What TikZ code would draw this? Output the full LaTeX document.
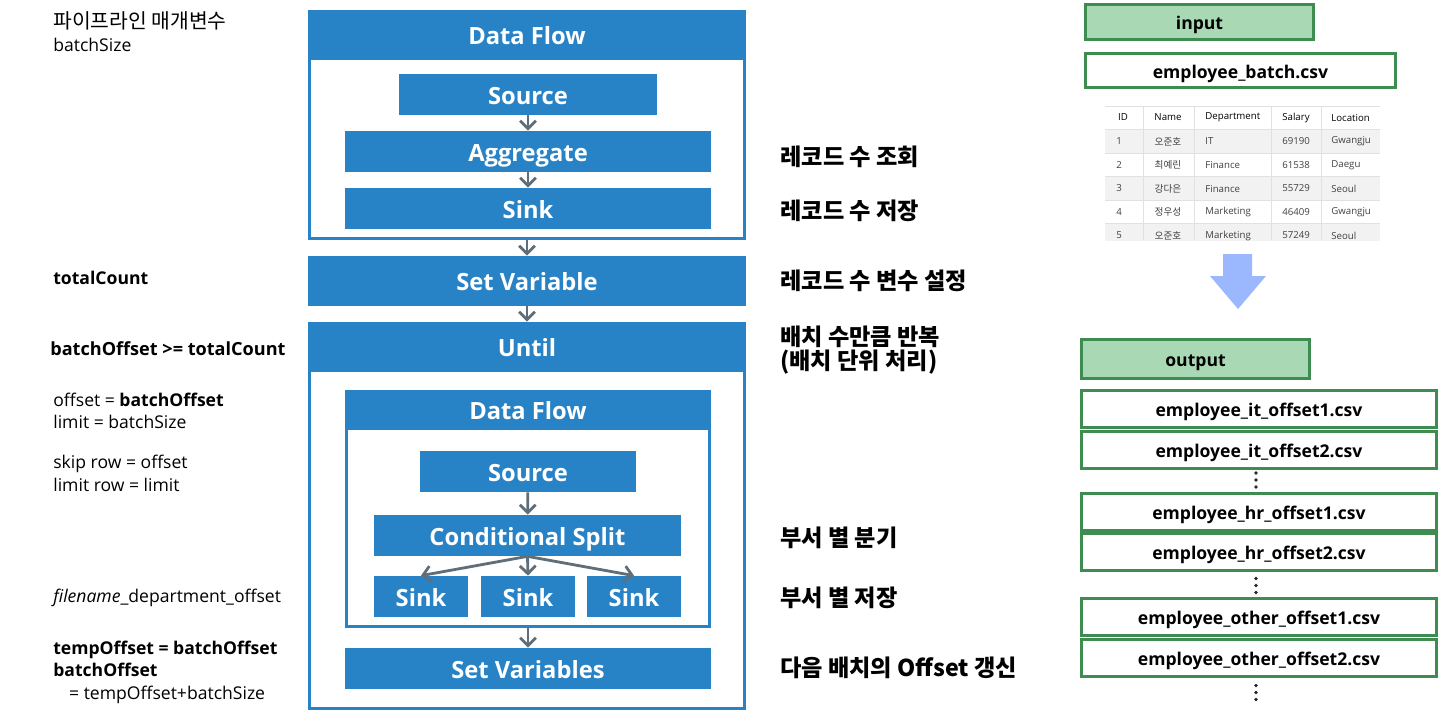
\documentclass[tikz,border=0pt]{standalone}
\usepackage{fontspec}
\setmainfont{Open Sans}
\newfontfamily\kr{Noto Sans CJK KR}
\usetikzlibrary{arrows.meta}

\definecolor{flowblue}{RGB}{40,131,198}
\definecolor{flowgray}{RGB}{95,110,120}
\definecolor{filegreen}{RGB}{62,140,80}
\definecolor{fillgreen}{RGB}{169,216,181}
\definecolor{arrowblue}{RGB}{155,184,255}
\definecolor{rowgray}{RGB}{242,242,242}
\definecolor{gridgray}{RGB}{225,225,225}

\tikzset{
  task/.style={fill=flowblue, text=white, font=\fontsize{13.5}{16}\selectfont\bfseries,
    inner sep=0pt, minimum height=0.82cm, text height=11pt, text depth=0pt},
  header/.style={task, minimum height=1cm},
  frame/.style={draw=flowblue, line width=1.9pt, inner sep=0pt},
  flow/.style={draw=flowgray, line width=1.6pt,
    -{Straight Barb[length=4.5pt,width=9pt,line width=1.6pt]}},
  note/.style={anchor=west, inner sep=0pt, align=left, font=\fontsize{10}{12.8}\selectfont},
  krnote/.style={anchor=west, inner sep=0pt, align=left,
    font=\kr\fontsize{13.2}{14}\selectfont\bfseries},
  file/.style={draw=filegreen, line width=1.7pt, fill=white,
    font=\fontsize{10}{12}\selectfont\bfseries, inner sep=0pt,
    minimum width=7.1cm, minimum height=0.74cm, text height=1.6ex, text depth=0pt},
  cell/.style={font=\fontsize{5.5}{6}\selectfont, text=black!75, inner sep=0pt}
}

\begin{document}
\begin{tikzpicture}[x=0.02cm, y=-0.02cm]
    \useasboundingbox (0,0) rectangle (1453,720);

    % first data flow
    \node[frame, minimum width=8.69cm, minimum height=4.53cm] (df1) at (527,125) {};
    \node[header, minimum width=8.76cm] (df1h) at (527,35) {Data Flow};
    \node[task, minimum width=5.16cm] (src1) at (528,94.5) {Source};
    \node[task, minimum width=7.32cm] (agg) at (528,151.5) {Aggregate};
    \node[task, minimum width=7.32cm] (sink1) at (528,208.5) {Sink};

    \node[header, minimum width=8.76cm] (setvar) at (527,281) {Set Variable};

    % until loop
    \node[frame, minimum width=8.69cm, minimum height=7.69cm] (until) at (527,516) {};
    \node[header, minimum width=8.76cm] (untilh) at (527,347) {Until};
    \node[frame, minimum width=7.25cm, minimum height=4.69cm] (df2) at (528,509) {};
    \node[header, minimum width=7.32cm, minimum height=0.8cm] (df2h) at (528,410) {Data Flow};
    \node[task, minimum width=4.32cm] (src2) at (528,471.5) {Source};
    \node[task, minimum width=6.14cm] (split) at (527.5,535.5) {Conditional Split};
    \node[task, minimum width=1.88cm] (sinkA) at (421,596.5) {Sink};
    \node[task, minimum width=1.88cm] (sinkB) at (528,596.5) {Sink};
    \node[task, minimum width=1.88cm] (sinkC) at (634,596.5) {Sink};
    \node[task, minimum width=7.32cm] (setvars) at (528,668.5) {Set Variables};

    \draw[flow] (src1) -- (agg);
    \draw[flow] (agg) -- (sink1);
    \draw[flow] (df1.south) -- (setvar.north);
    \draw[flow] (setvar.south) -- (untilh.north);
    \draw[flow] (src2) -- (split);
    \draw[flow] (split.south) -- (sinkA.north);
    \draw[flow] (split.south) -- (sinkB.north);
    \draw[flow] (split.south) -- (sinkC.north);
    \draw[flow] (df2.south) -- (setvars.north);

    % left notes
    \node[note, font=\fontsize{10}{13}\selectfont] (params) at (53,32) {{\kr\fontsize{11.6}{13}\selectfont 파이프라인 매개변수}\\batchSize};
    \node[note, font=\fontsize{10}{12.8}\selectfont\bfseries] (total) at (53,278) {totalCount};
    \node[note, font=\fontsize{10.3}{12.8}\selectfont\bfseries] (cond) at (50,349) {batchOffset >= totalCount};
    \node[note] (opts) at (53,411) {offset = \textbf{batchOffset}\\limit = batchSize};
    \node[note] (rows) at (53,473.5) {skip row = offset\\limit row = limit};
    \node[note] (fname) at (53,598) {\textit{filename}\_department\_offset};
    \node[note] (next) at (53,672) {\textbf{tempOffset = batchOffset}\\\textbf{batchOffset}\\\hspace{9pt}= tempOffset+batchSize};

    % right notes
    \node[krnote] (lblcount) at (780,157) {레코드 수 조회};
    \node[krnote] (lblsave) at (780,211) {레코드 수 저장};
    \node[krnote] (lblvar) at (780,281) {레코드 수 변수 설정};
    \node[krnote] (lblloop) at (780,350) {배치 수만큼 반복\\(배치 단위 처리)};
    \node[krnote] (lblsplit) at (780,538) {부서 별 분기};
    \node[krnote] (lblsink) at (780,598) {부서 별 저장};
    \node[krnote] (lblnext) at (780,668) {다음 배치의 Offset 갱신};

    % input
    \node[file, fill=fillgreen, minimum width=4.56cm, minimum height=0.7cm] (input) at (1199.5,22) {input};
    \node[file, minimum width=6.2cm, minimum height=0.68cm] (batch) at (1240.5,70.5) {employee\_batch.csv};

    % table preview
    \begin{scope}
        \clip (1100,100) rectangle (1385,240);
        \foreach \id/\nm/\dep/\sal/\loc [count=\k] in
            {1/오준호/IT/69190/Gwangju, 2/최예린/Finance/61538/Daegu,
             3/강다은/Finance/55729/Seoul, 4/정우성/Marketing/46409/Gwangju,
             5/오준호/Marketing/57249/Seoul}
        {
            \pgfmathsetmacro\ytop{129.5+(\k-1)*23.5}
            \ifodd\k
                \fill[rowgray] (1105,\ytop) rectangle (1380,\ytop+23.5);
            \fi
            \draw[gridgray, line width=0.4pt] (1105,\ytop) -- (1380,\ytop);
            \node[cell, anchor=west] (id\k) at (1116,\ytop+12) {\id};
            \node[cell] (nm\k) at (1168,\ytop+12) {\kr\nm};
            \node[cell, anchor=west] (dep\k) at (1205,\ytop+12) {\dep};
            \node[cell, anchor=west] (sal\k) at (1282,\ytop+12) {\sal};
            \node[cell, anchor=west] (loc\k) at (1331,\ytop+12) {\loc};
        }
        \draw[gridgray, line width=0.4pt] (1105,106) -- (1380,106);
        \foreach \cx in {1143, 1194, 1271, 1321}
            \draw[gridgray, line width=0.4pt] (\cx,106) -- (\cx,240);
    \end{scope}
    \node[cell, text=black] (hid) at (1123,117.5) {ID};
    \node[cell, text=black] (hnm) at (1168,117.5) {Name};
    \node[cell, text=black, anchor=west] (hdep) at (1205,117.5) {Department};
    \node[cell, text=black, anchor=west] (hsal) at (1282,117.5) {Salary};
    \node[cell, text=black, anchor=west] (hloc) at (1331,117.5) {Location};

    % big arrow
    \fill[arrowblue] (1223,254) -- (1252,254) -- (1252,276) -- (1266,276)
        -- (1238,309) -- (1210,276) -- (1223,276) -- cycle;

    % output
    \node[file, fill=fillgreen, minimum width=4.56cm, minimum height=0.78cm] (output) at (1195.5,359) {output};
    \node[file] (it1) at (1259,409) {employee\_it\_offset1.csv};
    \node[file] (it2) at (1259,450) {employee\_it\_offset2.csv};
    \node[file] (hr1) at (1259,512) {employee\_hr\_offset1.csv};
    \node[file] (hr2) at (1259,552) {employee\_hr\_offset2.csv};
    \node[file] (other1) at (1259,617) {employee\_other\_offset1.csv};
    \node[file] (other2) at (1259,658) {employee\_other\_offset2.csv};

    \foreach \y in {480, 585.5, 692.5}
        \foreach \d in {-7, 0, 7}
            \fill[black!85] (1256,\y+\d) circle (1.1pt);
\end{tikzpicture}
\end{document}
